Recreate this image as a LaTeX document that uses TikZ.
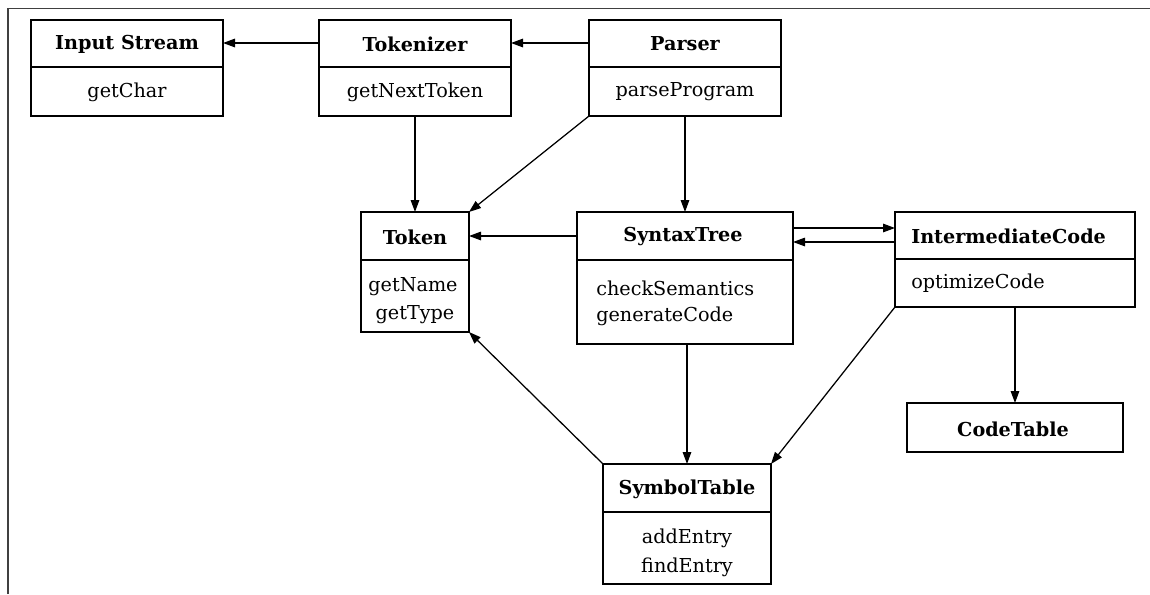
\documentclass[tikz,border=0pt]{standalone}
\usepackage{fontspec}
\setmainfont{DejaVu Serif}
\usetikzlibrary{arrows.meta,fit}

\tikzset{
  x=0.75pt, y=-0.75pt,
  classbox/.style={draw, line width=1.1pt, inner sep=0pt, outer sep=0pt},
  divider/.style={line width=1.1pt},
  title/.style={font=\fontsize{14.4}{17}\selectfont\bfseries, inner sep=0pt},
  member/.style={font=\fontsize{14.4}{17}\selectfont, inner sep=0pt},
  link/.style={line width=0.95pt, -{Triangle[length=9pt,width=6.4pt]}},
  frameline/.style={draw=black!75, line width=0.9pt}
}

\begin{document}
\begin{tikzpicture}
\useasboundingbox (0,0) rectangle (1150,594);

% partial frame around the drawing
\draw[frameline] (8,594) -- (8,8.5) -- (1150,8.5);

% Input Stream
\node[classbox, fit={(31,20) (223,116)}] (input) {};
\draw[divider] (input.west |- 0,67) -- (input.east |- 0,67);
\node[title]  (inputT) at (127,44) {Input Stream};
\node[member] (inputM) at (127,92) {getChar};

% Tokenizer
\node[classbox, fit={(319,20) (511,116)}] (tokenizer) {};
\draw[divider] (tokenizer.west |- 0,67) -- (tokenizer.east |- 0,67);
\node[title]  (tokenizerT) at (415,44) {Tokenizer};
\node[member] (tokenizerM) at (415,92) {getNextToken};

% Parser
\node[classbox, fit={(589,20) (781,116)}] (parser) {};
\draw[divider] (parser.west |- 0,67) -- (parser.east |- 0,67);
\node[title]  (parserT) at (685,44) {Parser};
\node[member] (parserM) at (685,92) {parseProgram};

% Token
\node[classbox, fit={(361,212) (469,332)}] (token) {};
\draw[divider] (token.west |- 0,260) -- (token.east |- 0,260);
\node[title]  (tokenT)  at (415,237) {Token};
\node[member] (tokenM1) at (413,287) {getName};
\node[member] (tokenM2) at (415,315) {getType};

% SyntaxTree
\node[classbox, fit={(577,212) (793,344)}] (syntax) {};
\draw[divider] (syntax.west |- 0,260) -- (syntax.east |- 0,260);
\node[title] (syntaxT) at (683,237) {SyntaxTree};
\node[member, anchor=west] (syntaxM1) at (596,288) {checkSemantics};
\node[member, anchor=west] (syntaxM2) at (596,316) {generateCode};

% IntermediateCode
\node[classbox, fit={(895,212) (1135,307)}] (inter) {};
\draw[divider] (inter.west |- 0,259) -- (inter.east |- 0,259);
\node[title, anchor=west]  (interT) at (911,236) {IntermediateCode};
\node[member, anchor=west] (interM) at (911,283) {optimizeCode};

% CodeTable
\node[classbox, fit={(907,403) (1123,452)}] (codetab) {};
\node[title] (codetabT) at (1013,429) {CodeTable};

% SymbolTable
\node[classbox, fit={(603,464) (771,584)}] (symtab) {};
\draw[divider] (symtab.west |- 0,512) -- (symtab.east |- 0,512);
\node[title]  (symtabT)  at (687,489) {SymbolTable};
\node[member] (symtabM1) at (687,538) {addEntry};
\node[member] (symtabM2) at (687,567) {findEntry};

% dependencies
\draw[link] (tokenizer.west |- 0,43) -- (input.east |- 0,43);
\draw[link] (parser.west |- 0,43) -- (tokenizer.east |- 0,43);
\draw[link] (tokenizer.south) -- (token.north);
\draw[link] (parser.south west) -- (token.north east);
\draw[link] (parser.south) -- (syntax.north);
\draw[link] (syntax.west |- 0,236) -- (token.east |- 0,236);
\draw[link] (syntax.east |- 0,228) -- (inter.west |- 0,228);
\draw[link] (inter.west |- 0,242) -- (syntax.east |- 0,242);
\draw[link] (syntax.south -| symtab.north) -- (symtab.north);
\draw[link] (symtab.north west) -- (token.south east);
\draw[link] (inter.south west) -- (symtab.north east);
\draw[link] (inter.south) -- (inter.south |- codetab.north);
\end{tikzpicture}
\end{document}
